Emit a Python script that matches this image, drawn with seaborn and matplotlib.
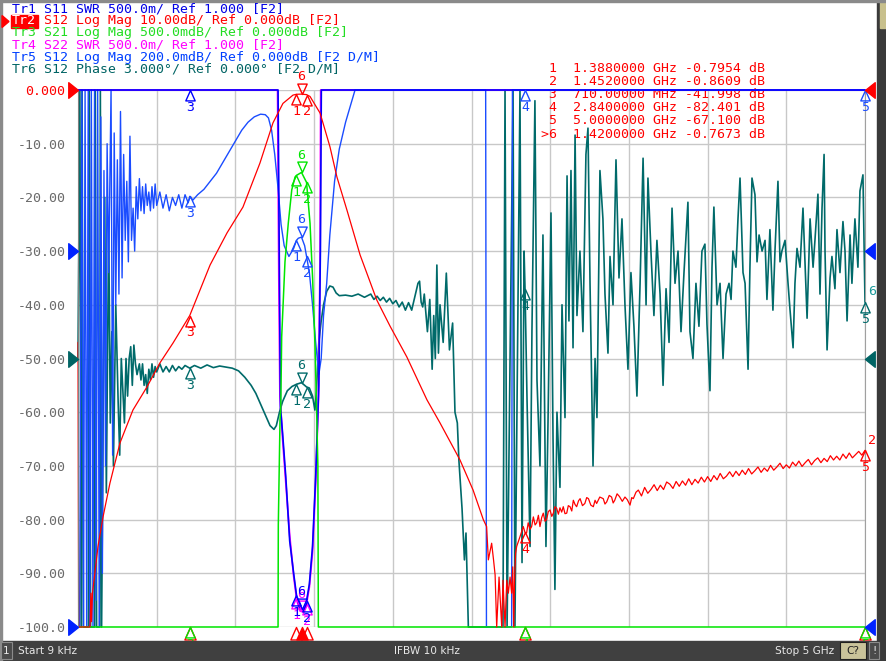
import numpy as np
import matplotlib
matplotlib.use("Agg")
import matplotlib.pyplot as plt
from matplotlib.path import Path
from matplotlib.patches import Rectangle, Polygon
import seaborn as sns

# frequencies in GHz. Tr2 is in dB; the other traces are given as read on
# the 10 dB/div screen grid (values outside the grid get clipped to the edge)
s12_pts = [(0.000, -47), (0.004, -100), (0.076, -100), (0.082, -93.7), (0.086, -99), (0.092, -93.7),
           (0.127, -85), (0.159, -79.5), (0.203, -73.2), (0.267, -65.7), (0.349, -59.6), (0.438, -55.3),
           (0.521, -50.8), (0.604, -47.1), (0.71, -41.998), (0.839, -32.6), (0.947, -26.6), (1.048, -21.8),
           (1.156, -13.6), (1.239, -6.1), (1.302, -2.5), (1.366, -0.95), (1.388, -0.7954), (1.42, -0.7673),
           (1.452, -0.8609), (1.474, -1.2), (1.538, -4.3), (1.601, -10.6), (1.645, -16.2), (1.709, -22.4),
           (1.792, -30.7), (1.898, -39.1), (1.983, -44.0), (2.089, -49.7), (2.217, -57.7), (2.30, -62.0),
           (2.427, -68.9), (2.51, -74.5), (2.575, -80.0), (2.596, -81.3), (2.607, -87.5), (2.628, -84.4),
           (2.64, -87.5), (2.65, -90.3), (2.66, -101), (2.675, -90.7), (2.692, -101), (2.70, -91.3),
           (2.713, -101), (2.724, -91.3), (2.734, -93.7), (2.745, -90.7), (2.755, -93.7), (2.762, -88.8),
           (2.768, -101), (2.774, -90.7), (2.78, -86.3), (2.787, -85.0), (2.808, -83.2), (2.829, -81.3),
           (2.84, -82.401), (2.85, -82.5), (2.86, -80.6), (2.872, -81.8), (2.882, -81.3), (2.893, -79.5),
           (2.904, -81.0), (2.914, -80.6), (2.925, -79.2), (2.935, -81.3), (2.946, -79.6), (2.956, -78.8),
           (2.967, -80.3), (2.977, -80.0), (2.988, -78.5), (2.999, -78.2), (3.01, -79.4), (3.02, -78.8),
           (3.03, -77.6), (3.041, -77.9), (3.052, -79.0), (3.062, -77.8), (3.073, -78.6), (3.083, -77.6),
           (3.094, -78.9), (3.105, -78.8), (3.115, -77.4), (3.126, -77.6), (3.137, -78.4), (3.147, -76.4),
           (3.158, -77.2), (3.168, -77.6), (3.18, -76.5), (3.19, -76.1), (3.205, -77.4), (3.22, -77.0),
           (3.232, -75.9), (3.243, -76.1), (3.258, -77.3), (3.274, -77.6), (3.285, -76.4), (3.295, -77.0),
           (3.315, -75.8), (3.337, -76.1), (3.348, -77.1), (3.359, -76.7), (3.375, -75.5), (3.39, -75.8),
           (3.40, -76.9), (3.41, -76.4), (3.425, -75.2), (3.44, -75.7), (3.458, -76.6), (3.475, -75.8),
           (3.49, -76.3), (3.507, -77.3), (3.518, -75.9), (3.528, -76.1), (3.545, -74.9), (3.56, -74.5),
           (3.58, -75.6), (3.60, -74.0), (3.62, -75.1), (3.64, -74.4), (3.66, -73.5), (3.68, -74.6),
           (3.70, -73.6), (3.72, -74.4), (3.74, -73.0), (3.76, -73.4), (3.78, -74.2), (3.80, -72.9),
           (3.82, -73.8), (3.84, -72.8), (3.86, -73.6), (3.88, -72.4), (3.90, -73.5), (3.92, -72.5),
           (3.94, -73.2), (3.96, -72.1), (3.98, -73.0), (4.00, -72.0), (4.02, -72.9), (4.04, -71.8),
           (4.06, -72.6), (4.08, -71.4), (4.10, -72.4), (4.12, -71.9), (4.14, -71.1), (4.16, -72.0),
           (4.18, -71.0), (4.20, -71.8), (4.22, -70.8), (4.24, -71.6), (4.26, -70.5), (4.28, -71.5),
           (4.30, -70.9), (4.32, -70.2), (4.34, -71.2), (4.36, -70.4), (4.38, -71.0), (4.40, -69.9),
           (4.42, -70.8), (4.44, -70.2), (4.46, -69.5), (4.48, -70.5), (4.50, -69.8), (4.52, -70.4),
           (4.54, -69.3), (4.56, -70.0), (4.58, -69.1), (4.60, -70.1), (4.62, -69.4), (4.64, -68.8),
           (4.66, -69.8), (4.68, -69.0), (4.70, -68.5), (4.72, -69.4), (4.74, -68.6), (4.76, -69.2),
           (4.78, -68.1), (4.80, -68.9), (4.82, -68.2), (4.84, -68.9), (4.86, -67.8), (4.88, -68.6),
           (4.90, -67.6), (4.92, -68.5), (4.94, -67.9), (4.96, -67.3), (4.98, -68.0), (5.00, -67.1)]

s21_pts = [(0.0, -105), (1.271, -105), (1.2726, -81), (1.2834, -61.5), (1.288, -59.6), (1.294, -46),
           (1.315, -32), (1.336, -24.8), (1.358, -18.6), (1.379, -16.2), (1.388, -15.9), (1.42, -15.35),
           (1.452, -17.2), (1.474, -24.8), (1.491, -35.4), (1.506, -47.8), (1.516, -59.6), (1.524, -70),
           (1.527, -105), (5.0, -105)]

s11_swr_pts = [(0.0, 5), (1.271, 5), (1.279, -32), (1.286, -59), (1.30, -64), (1.32, -72), (1.345, -84),
               (1.37, -90), (1.39, -94.5), (1.41, -96.5), (1.43, -96.8), (1.45, -95.5), (1.47, -92),
               (1.49, -85), (1.51, -72), (1.53, -55), (1.54, -30), (1.546, 5), (5.0, 5)]

s22_swr_pts = [(0.0, 5), (1.268, 5), (1.276, -35), (1.283, -57), (1.30, -65), (1.32, -73), (1.345, -83),
               (1.37, -90.5), (1.39, -95), (1.41, -97), (1.43, -97.2), (1.45, -96), (1.47, -92.5),
               (1.49, -86), (1.51, -73), (1.528, -57), (1.538, -32), (1.542, 5), (5.0, 5)]

s12_dm_pts = [(0.000, -100), (0.010, -100), (0.025, 1), (0.035, -101), (0.045, 1), (0.055, -101),
              (0.065, 1), (0.075, -101), (0.085, 1), (0.095, -101), (0.105, 1), (0.115, -95), (0.125, 1),
              (0.135, -101), (0.145, -5), (0.155, -90), (0.165, -15), (0.175, -70), (0.185, -10),
              (0.195, -34), (0.21, 1), (0.22, -68), (0.23, -8), (0.24, -40), (0.25, -13), (0.26, -38),
              (0.27, -4), (0.28, -35), (0.29, -12), (0.30, -28), (0.31, -17), (0.32, -32), (0.33, -8.6),
              (0.34, -28), (0.35, -22), (0.36, -30), (0.37, -18), (0.38, -24), (0.39, -16.5), (0.40, -22.5),
              (0.41, -18), (0.42, -23), (0.43, -17.5), (0.44, -21.5), (0.45, -19), (0.46, -22.5), (0.47, -18),
              (0.48, -22), (0.49, -17.5), (0.50, -21.5), (0.52, -19), (0.54, -22), (0.56, -19.5), (0.58, -22.5),
              (0.60, -20), (0.62, -21.5), (0.64, -19.5), (0.66, -22), (0.68, -19.5), (0.70, -21), (0.71, -19.8),
              (0.73, -20.5), (0.76, -19.5), (0.80, -18.5), (0.84, -17), (0.88, -15.5), (0.92, -13.5),
              (0.96, -11.5), (1.00, -9.5), (1.04, -7.5), (1.08, -6), (1.12, -5), (1.16, -4.5), (1.19, -4.6),
              (1.21, -5.2), (1.23, -7.5), (1.25, -12), (1.27, -18), (1.29, -25), (1.31, -29), (1.34, -31),
              (1.37, -29.5), (1.388, -28), (1.40, -27.6), (1.42, -27.4), (1.44, -29), (1.452, -31),
              (1.47, -34), (1.49, -40), (1.51, -47), (1.53, -53), (1.545, -50), (1.56, -42), (1.58, -36),
              (1.60, -27), (1.63, -17), (1.66, -11), (1.70, -6), (1.73, -3), (1.76, 0), (1.77, 1),
              (2.59, 1), (2.595, -101), (2.755, -101), (2.76, 1), (5.0, 1)]

phase_dm_pts = [(0.000, -50), (0.012, 0), (0.020, -100), (0.026, 0), (0.034, -100), (0.066, -100),
                (0.072, 0), (0.080, -100), (0.105, -100), (0.110, 0), (0.118, -100), (0.138, -100),
                (0.142, 0), (0.150, -100), (0.160, -60), (0.170, -20), (0.180, -75), (0.195, -25),
                (0.205, -62), (0.215, -45), (0.225, -70), (0.24, -40), (0.255, -58), (0.265, -68),
                (0.275, -50), (0.285, -56), (0.295, -62), (0.305, -50), (0.315, -57), (0.325, -50),
                (0.335, -47.8), (0.345, -55), (0.355, -47.5), (0.365, -51), (0.375, -53), (0.39, -51),
                (0.40, -54), (0.41, -51), (0.42, -55), (0.43, -53), (0.44, -56.5), (0.45, -52), (0.46, -54),
                (0.47, -51), (0.48, -53.5), (0.49, -51.5), (0.50, -52.5), (0.52, -51), (0.54, -52.5),
                (0.56, -51.5), (0.58, -52.5), (0.60, -51.3), (0.62, -52.3), (0.64, -51.5), (0.66, -52),
                (0.68, -51.3), (0.71, -51.8), (0.74, -51.3), (0.78, -51.8), (0.82, -51.2), (0.86, -51.7),
                (0.90, -51.4), (0.94, -51.6), (0.98, -51.8), (1.02, -52.3), (1.06, -53.5), (1.10, -55),
                (1.13, -56.5), (1.16, -58.5), (1.19, -60.5), (1.22, -62.5), (1.245, -63.2), (1.26, -62.5),
                (1.28, -60), (1.30, -58), (1.33, -56), (1.36, -55.2), (1.388, -54.8), (1.42, -54.5),
                (1.452, -55.3), (1.47, -55.5), (1.49, -57), (1.505, -59.6), (1.515, -56), (1.53, -47),
                (1.545, -43), (1.56, -40), (1.58, -37.5), (1.60, -36.5), (1.62, -36.7), (1.64, -37.8),
                (1.66, -38.3), (1.70, -38.2), (1.74, -38.4), (1.78, -38), (1.82, -38.6), (1.86, -38),
                (1.88, -39), (1.90, -38.4), (1.92, -39.2), (1.94, -38.6), (1.96, -39.5), (1.98, -38.8),
                (2.00, -39.8), (2.02, -39.2), (2.04, -40.4), (2.06, -39.5), (2.08, -41), (2.10, -39.6),
                (2.12, -41), (2.14, -38.5), (2.16, -36), (2.17, -35.6), (2.18, -39.5), (2.19, -40.4),
                (2.20, -38), (2.22, -45), (2.235, -39), (2.25, -52), (2.26, -42), (2.27, -50), (2.28, -32.6),
                (2.29, -49), (2.30, -40), (2.32, -47), (2.34, -34.1), (2.36, -48.4), (2.38, -43.4),
                (2.395, -60), (2.41, -62), (2.42, -69), (2.44, -78), (2.455, -87.5), (2.465, -82.5),
                (2.48, -101), (2.70, -101), (2.713, 1), (2.726, -101), (2.764, 1), (2.770, -50), (2.776, -101),
                (2.808, 1), (2.821, -88), (2.834, -30), (2.84, -37), (2.853, -58), (2.872, -85), (2.884, -45),
                (2.903, -2), (2.916, -54), (2.935, -70), (2.954, -27), (2.973, -85), (2.986, -62),
                (3.005, -22.9), (3.018, -65), (3.03, -93), (3.043, -60), (3.062, -74), (3.075, -40),
                (3.094, -61), (3.107, -16), (3.119, -43), (3.132, -15), (3.145, -48), (3.158, -8.4),
                (3.17, -42), (3.189, -30), (3.208, -45), (3.227, -12), (3.24, -7.1), (3.253, -36),
                (3.272, -70), (3.285, -50), (3.297, -61), (3.316, -15), (3.335, -24), (3.348, -38),
                (3.367, -49), (3.38, -31), (3.399, -40), (3.418, -13), (3.437, -35), (3.456, -24),
                (3.475, -40), (3.494, -52), (3.513, -34), (3.532, -44), (3.551, -57), (3.571, -36),
                (3.59, -12.7), (3.609, -40), (3.621, -16.4), (3.64, -30), (3.659, -42), (3.678, -28),
                (3.698, -38), (3.717, -55), (3.736, -37), (3.755, -47), (3.774, -22), (3.793, -36),
                (3.812, -30), (3.831, -45), (3.85, -34), (3.875, -20.9), (3.888, -45), (3.907, -50),
                (3.926, -36), (3.945, -44), (3.964, -30), (3.983, -28.7), (3.996, -43.6), (4.015, -56),
                (4.028, -33), (4.04, -21.8), (4.06, -40), (4.079, -36), (4.098, -50), (4.117, -38),
                (4.136, -36), (4.149, -39), (4.161, -30), (4.18, -33), (4.193, -24), (4.206, -16.4),
                (4.225, -34), (4.238, -36), (4.257, -52), (4.269, -33), (4.282, -16.4), (4.301, -19.5),
                (4.314, -32), (4.327, -27), (4.346, -30), (4.365, -28), (4.377, -39), (4.396, -26),
                (4.415, -41), (4.428, -30), (4.447, -17), (4.46, -32), (4.472, -30), (4.492, -28),
                (4.511, -36), (4.523, -40.7), (4.543, -48), (4.555, -36), (4.568, -29.5), (4.587, -33),
                (4.606, -22), (4.632, -42.5), (4.651, -24), (4.67, -33), (4.682, -28), (4.701, -19.4),
                (4.714, -38), (4.727, -22), (4.74, -12), (4.746, -30), (4.759, -48.4), (4.778, -35),
                (4.79, -31), (4.809, -37), (4.822, -26), (4.841, -34), (4.86, -24.5), (4.873, -30),
                (4.886, -43), (4.905, -27), (4.917, -36), (4.936, -24), (4.955, -33), (4.968, -18.8),
                (4.987, -15.8), (5.0, -39.5)]

# marker table (active trace Tr2)
mk_label = ["1", "2", "3", "4", "5", "6"]
mk_freq = [1.388, 1.452, 0.71, 2.84, 5.0, 1.42]
mk_db = [-0.7954, -0.8609, -41.998, -82.401, -67.100, -0.7673]

# reference level arrows (grid position, colour)
ref_levels = [0, -30, -50, -100]
ref_colors = ["#ff0000", "#0022ff", "#006464", "#0022ff"]

header = [("Tr1 S11 SWR 500.0m/ Ref 1.000 [F2]", "#0000e6"),
          ("Tr2 S12 Log Mag 10.00dB/ Ref 0.000dB [F2]", "#ff0000"),
          ("Tr3 S21 Log Mag 500.0mdB/ Ref 0.000dB [F2]", "#22dd22"),
          ("Tr4 S22 SWR 500.0m/ Ref 1.000 [F2]", "#ff00ff"),
          ("Tr5 S12 Log Mag 200.0mdB/ Ref 0.000dB [F2 D/M]", "#0040ff"),
          ("Tr6 S12 Phase 3.000°/ Ref 0.000° [F2 D/M]", "#006464")]

RED, GREEN, BLUE1, BLUE5, MAG, TEAL = "#ff0000", "#00e600", "#0000ff", "#1a4cff", "#ff00ff", "#006a6a"

W, H = 886, 661
CHAR_W = 7.94  # px per character of the 9.5 pt mono font


def fx(x):
    return x / W


def fy(y):
    return 1 - y / H


sns.set_style("white")
plt.rcParams["font.family"] = ["DejaVu Sans Mono", "DejaVu Sans"]

fig = plt.figure(figsize=(W / 100, H / 100), dpi=100)
ax = fig.add_axes([fx(78), fy(627), (865 - 78) / W, (627 - 90) / H])


def trace(pts, color, lw):
    f, v = np.array(pts).T
    sns.lineplot(x=f, y=np.clip(v, -100, 0), ax=ax, color=color, linewidth=lw,
                 estimator=None, sort=False, legend=False)
    return f, v


ph_f, ph_v = trace(phase_dm_pts, TEAL, 1.2)
s22_f, s22_v = trace(s22_swr_pts, MAG, 1.3)
dm_f, dm_v = trace(s12_dm_pts, BLUE5, 1.0)
s11_f, s11_v = trace(s11_swr_pts, BLUE1, 1.2)
s21_f, s21_v = trace(s21_pts, GREEN, 1.1)
s12_f, s12_v = trace(s12_pts, RED, 0.9)
for ln in ax.lines:
    ln.set_clip_on(False)

ax.set_xlim(0, 5)
ax.set_ylim(-100, 0)
ax.set_xticks(np.arange(0, 5.01, 0.5))
ax.set_yticks(np.arange(-100, 1, 10))
ax.set_xticklabels([])
ylabels = ["-100.0"] + [f"{v:.2f}" for v in range(-90, 0, 10)] + ["0.000"]
ax.set_yticklabels(ylabels, fontsize=9.5, color="#6a6a6a")
ax.get_yticklabels()[-1].set_color("#ff0000")
ax.tick_params(axis="both", length=0)
ax.tick_params(axis="y", pad=9)
ax.set_xlabel("")
ax.set_ylabel("")
ax.grid(True, color="#c8c8c8", linewidth=1.0)
ax.set_axisbelow(True)
ax.spines["left"].set_color("#808080")
ax.spines["right"].set_color("#a0a0a0")
ax.spines["top"].set_visible(False)
ax.spines["bottom"].set_visible(False)

TRI_UP = Path([(0, 0), (-0.45, -1), (0.45, -1), (0, 0)],
              [Path.MOVETO, Path.LINETO, Path.LINETO, Path.CLOSEPOLY])
TRI_DN = Path([(0, 0), (-0.45, 1), (0.45, 1), (0, 0)],
              [Path.MOVETO, Path.LINETO, Path.LINETO, Path.CLOSEPOLY])
ARR_R = Path([(0, 0), (-1, 0.8), (-1, -0.8), (0, 0)],
             [Path.MOVETO, Path.LINETO, Path.LINETO, Path.CLOSEPOLY])
ARR_L = Path([(0, 0), (1, 0.8), (1, -0.8), (0, 0)],
             [Path.MOVETO, Path.LINETO, Path.LINETO, Path.CLOSEPOLY])


def put_markers(f, v, color, which, active=5):
    for i in which:
        fm = mk_freq[i]
        vm = float(np.clip(np.interp(fm, f, v), -100, 0))
        down = i == active
        ax.plot(fm, vm, marker=TRI_DN if down else TRI_UP, ms=15, mfc="none", mec=color,
                mew=1.0, ls="none", clip_on=False, zorder=4)
        ax.annotate(mk_label[i], (fm, vm), xytext=(0, 12.5 if down else -12.5),
                    textcoords="offset points", ha="center", va="center", color=color,
                    fontsize=9.5, zorder=4, annotation_clip=False)


# stimulus position indicators under the grid
for i, fm in enumerate(mk_freq):
    ax.plot(fm, -100, marker=TRI_UP, ms=18, mfc=RED if i == 5 else "none", mec=RED,
            mew=1.0, ls="none", clip_on=False, zorder=3)

put_markers(ph_f, ph_v, TEAL, range(6))
put_markers(s22_f, s22_v, MAG, [0, 1, 5])
put_markers(dm_f, dm_v, BLUE5, range(6))
put_markers(s11_f, s11_v, BLUE1, [0, 1, 5, 2])
put_markers(s21_f, s21_v, GREEN, range(6))
put_markers(s12_f, s12_v, RED, range(6))

# trace numbers at the right end
ax.annotate("2", (5.0, s12_v[-1]), xytext=(5, 7), textcoords="offset points", ha="center",
            va="center", color=RED, fontsize=9.5, annotation_clip=False)
ax.annotate("6", (5.0, ph_v[-1]), xytext=(5, 8), textcoords="offset points", ha="center",
            va="center", color="#1a9a9a", fontsize=9.5, annotation_clip=False)

# reference arrows on both sides
for lvl, c in zip(ref_levels, ref_colors):
    ax.plot(0, lvl, marker=ARR_R, ms=14, color=c, ls="none", clip_on=False, zorder=5)
    ax.plot(5, lvl, marker=ARR_L, ms=14, color=c, ls="none", clip_on=False, zorder=5)

# marker table (under the traces)
for k, (lab, fm, dbv) in enumerate(zip(mk_label, mk_freq, mk_db)):
    num = ">" + lab if k == 5 else " " + lab
    fstr = f"{fm * 1000:.5f} MHz" if fm < 1 else f"{fm:.7f} GHz"
    vstr = f"{dbv:.4f}" if abs(dbv) < 10 else f"{dbv:.3f}"
    ax.text(fx(541), fy(68 + 13.2 * k), f"{num}  {fstr} {vstr:>7} dB", transform=fig.transFigure,
            color=RED, fontsize=9.5, ha="left", va="center", zorder=1)

# header lines
for k, (txt, c) in enumerate(header):
    yy = fy(8.5 + 12.2 * k)
    x0 = 12
    if k == 1:
        fig.patches.append(Rectangle((fx(11), fy(27.5)), 27 / W, 12.5 / H, transform=fig.transFigure,
                                     color="#ff0000", zorder=2))
        fig.patches.append(Polygon([(fx(2), fy(15.5)), (fx(2), fy(27.5)), (fx(9), fy(21.5))],
                                   closed=True, transform=fig.transFigure, color="#ff0000", zorder=2))
        fig.text(fx(12), yy, txt[:3], color="white", fontsize=9.5, ha="left", va="center")
        txt = txt[4:]
        x0 = 12 + 4 * CHAR_W
    fig.text(fx(x0), yy, txt, color=c, fontsize=9.5, ha="left", va="center")

# window frame and status bar
fig.patches.append(Rectangle((0, 0), 1, 20 / H, transform=fig.transFigure, color="#404040", zorder=1))
fig.patches.append(Rectangle((fx(877), 0), 9 / W, 1, transform=fig.transFigure, color="#3a3a3a", zorder=1))
fig.patches.append(Rectangle((fx(880), fy(28)), 6 / W, 28 / H, transform=fig.transFigure,
                             color="#c8c08c", zorder=1))
fig.patches.append(Rectangle((0, 0), 1.5 / W, 1, transform=fig.transFigure, color="#8a8a8a", zorder=1))
fig.patches.append(Rectangle((0, fy(1.5)), 1, 1.5 / H, transform=fig.transFigure, color="#8a8a8a", zorder=1))
fig.patches.append(Rectangle((fx(1), fy(659)), 11 / W, 17 / H, transform=fig.transFigure,
                             facecolor="#4a4a4a", edgecolor="#8a8a8a", lw=0.8, zorder=2))
fig.patches.append(Rectangle((fx(840), fy(659)), 26 / W, 17 / H, transform=fig.transFigure,
                             facecolor="#c9c39a", edgecolor="#202020", lw=0.8, zorder=2))
fig.patches.append(Rectangle((fx(869), fy(659)), 10 / W, 17 / H, transform=fig.transFigure,
                             facecolor="#4a4a4a", edgecolor="#8a8a8a", lw=0.8, zorder=2))
sb = dict(fontsize=7.6, color="#e8e8e8", va="center", family="DejaVu Sans", zorder=4)
fig.text(fx(6.5), fy(651), "1", ha="center", **sb)
fig.text(fx(18), fy(651), "Start 9 kHz", ha="left", **sb)
fig.text(fx(427), fy(651), "IFBW 10 kHz", ha="center", **sb)
fig.text(fx(834), fy(651), "Stop 5 GHz", ha="right", **sb)
fig.text(fx(853), fy(651), "C?", ha="center", fontsize=7.6, color="#202020", va="center",
         family="DejaVu Sans", zorder=4)
fig.text(fx(874), fy(651), "!", ha="center", **sb)

fig.savefig("out.png", dpi=100)
